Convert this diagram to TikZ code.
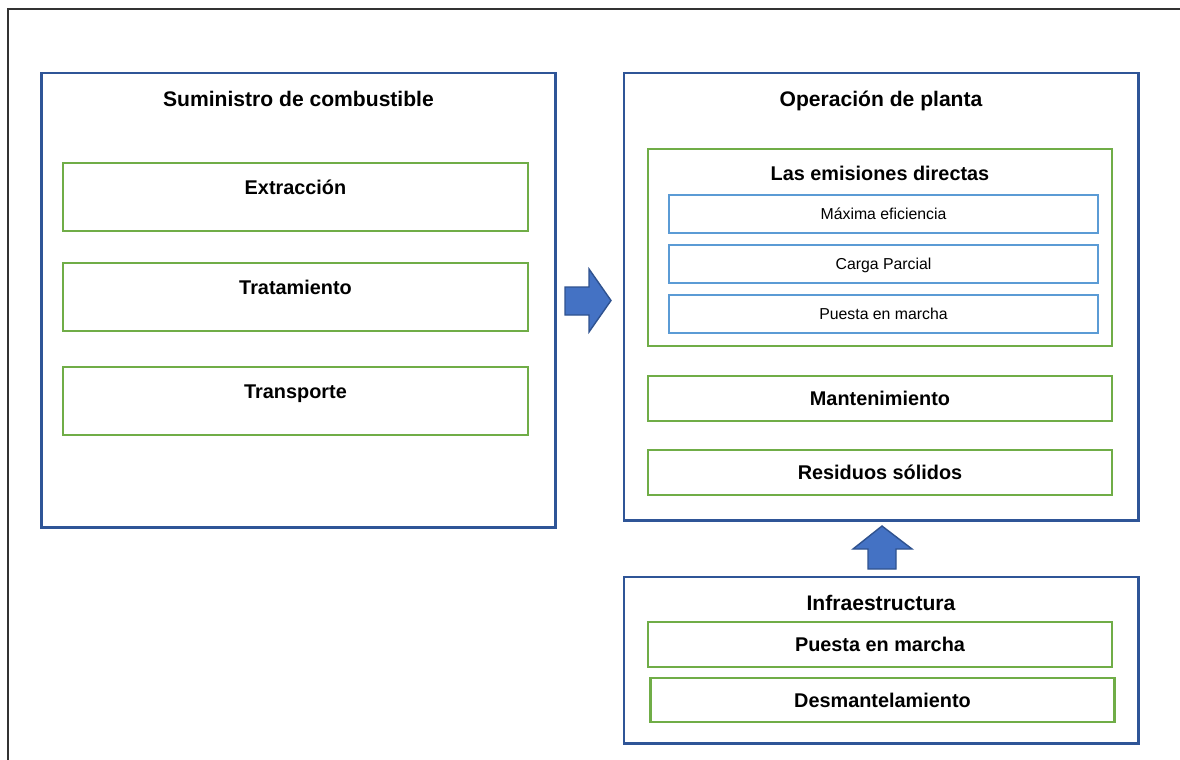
\documentclass[tikz,border=0pt]{standalone}
\usepackage{fontspec}
\setmainfont{Liberation Sans}
\usetikzlibrary{positioning}
\definecolor{dblue}{HTML}{2F5597}
\definecolor{lgreen}{HTML}{70AD47}
\definecolor{lblue}{HTML}{5B9BD5}
\definecolor{afill}{HTML}{4472C4}
\definecolor{aline}{HTML}{2F528F}

\begin{document}
\begin{tikzpicture}[x=0.2mm,y=-0.2mm,
    bigb/.style={draw=dblue,line width=1.7pt,inner sep=0pt,outer sep=0pt,minimum width=102.9mm},
    grn/.style={draw=lgreen,line width=1.2pt,inner sep=0pt,outer sep=0pt,minimum width=92.8mm,minimum height=9mm,
                font=\fontsize{11.3}{13}\selectfont\bfseries,text height=8.1pt,text depth=0pt},
    grnl/.style={grn,minimum width=93mm,minimum height=13.6mm},
    blu/.style={draw=lblue,line width=1.2pt,inner sep=0pt,outer sep=0pt,minimum width=85.8mm,minimum height=7.6mm,
                font=\fontsize{9}{11}\selectfont,text height=6.4pt,text depth=0pt},
    ttl/.style={anchor=base,inner sep=0pt,font=\fontsize{12}{14}\selectfont\bfseries},
    hd/.style={anchor=base,inner sep=0pt,font=\fontsize{11.3}{13}\selectfont\bfseries},
    barrow/.style={fill=afill,draw=aline,line width=0.8pt,line join=miter}]
\useasboundingbox (0,0) rectangle (1180,760);
\draw[line width=0.9pt,black!80] (8,760) -- (8,9) -- (1180,9);
%
   % suministro
   \node[bigb,minimum height=90.8mm]  (sum)   at (298.5,300) {};
   \node[ttl]                          (sumt)  at ([yshift=-6.6mm]sum.north) {Suministro de combustible};
   \node[grnl]                         (ext)   at (295.5,197) {};
   \node[grnl]                         (trat)  [below=6.4mm of ext] {};
   \node[grnl]                         (trans) [below=7.2mm of trat] {};
   \node[hd]                           (extt)  at ([yshift=-6.2mm]ext.north) {Extracción};
   \node[hd]                           (tratt) at ([yshift=-6.2mm]trat.north) {Tratamiento};
   \node[hd]                           (trant) at ([yshift=-6.2mm]trans.north) {Transporte};
   % operacion
   \node[bigb,minimum width=102.8mm,minimum height=89.4mm] (op) at (881,296.5) {};
   \node[ttl]                          (opt)   at ([yshift=-6.6mm]op.north) {Operación de planta};
   \node[grn,minimum height=39.4mm]    (emi)   at (880,247.5) {};
   \node[hd]                           (emit)  at ([yshift=-6.2mm]emi.north) {Las emisiones directas};
   \node[blu]                          (maxef) at (883.5,214) {Máxima eficiencia};
   \node[blu]                          (carga) [below=2.4mm of maxef] {Carga Parcial};
   \node[blu]                          (pm)    [below=2.4mm of carga] {Puesta en marcha};
   \node[grn]                          (mant)  [below=6mm of emi] {Mantenimiento};
   \node[grn]                          (res)   [below=5.8mm of mant] {Residuos sólidos};
   % infraestructura
   \node[bigb,minimum width=102.8mm,minimum height=33.2mm] (infra) at (881,660) {};
   \node[ttl]                          (inft)  at ([yshift=-6.6mm]infra.north) {Infraestructura};
   \node[grn]                          (ipm)   at (880,644.5) {Puesta en marcha};
   \node[grn,minimum height=8.8mm]     (desm)  [below=2.2mm of ipm,xshift=0.5mm] {Desmantelamiento};
   % flechas
   \filldraw[barrow] (565,287) -- (589,287) -- (589,269) -- (611,300.5) -- (589,332) -- (589,315) -- (565,315) -- cycle;
   \filldraw[barrow] (882,526) -- (912,549) -- (896,549) -- (896,569) -- (868,569) -- (868,549) -- (853,549) -- cycle;
\end{tikzpicture}
\end{document}
